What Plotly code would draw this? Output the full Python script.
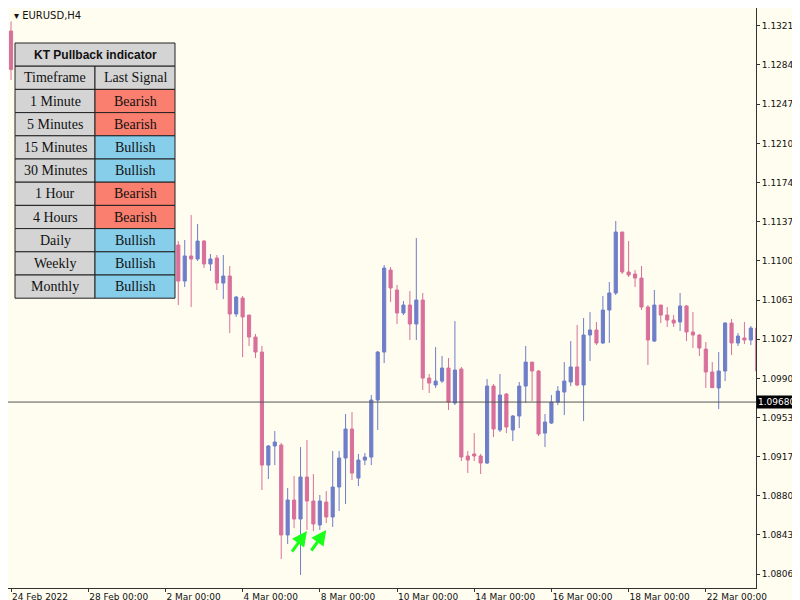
import plotly.graph_objects as go

# EURUSD H4 bars; index 0 = 24 Feb 2022 00:00, 6 bars per day
opens = [1.13160, 1.12800, 1.12650, 1.12400, 1.12500, 1.12200, 1.12000, 1.12100,
         1.11900, 1.11700, 1.11800, 1.11600, 1.11500, 1.11650, 1.11400, 1.11300,
         1.11450, 1.11500, 1.11300, 1.11200, 1.11350, 1.11250, 1.11100, 1.11200,
         1.11300, 1.11100,
         1.11153, 1.10815, 1.11050, 1.11022, 1.11190, 1.10975, 1.11031, 1.10796,
         1.10862, 1.10506, 1.10656, 1.10496, 1.10290, 1.10149, 1.09089, 1.09268,
         1.09277, 1.08433, 1.08761, 1.08583, 1.08977, 1.08752, 1.08527, 1.08742,
         1.08602, 1.08883, 1.09155, 1.09427, 1.08967, 1.09136, 1.09164, 1.09699,
         1.10149, 1.10918, 1.10731, 1.10515, 1.10590, 1.10412, 1.10637, 1.09905,
         1.09840, 1.09877, 1.09999, 1.09671, 1.09990, 1.09174, 1.09193, 1.09174,
         1.09108, 1.09830, 1.09418, 1.09755, 1.09418, 1.09549, 1.09830, 1.10055,
         1.09971, 1.09389, 1.09483, 1.09680, 1.09774, 1.09868, 1.10009, 1.09840,
         1.10309, 1.10356, 1.10234, 1.10543, 1.10703, 1.11275, 1.10900, 1.10881,
         1.10843, 1.10571, 1.10252, 1.10590, 1.10496, 1.10449, 1.10431, 1.10581,
         1.10337, 1.10309, 1.10177, 1.09962, 1.09812, 1.09971, 1.10421, 1.10234,
         1.10281, 1.10262, 1.10374]
highs = [1.13250, 1.12900, 1.12750, 1.12600, 1.12600, 1.12300, 1.12200, 1.12200,
         1.12000, 1.11900, 1.11850, 1.11700, 1.11700, 1.11700, 1.11500, 1.11500,
         1.11600, 1.11600, 1.11400, 1.11400, 1.11400, 1.11300, 1.11300, 1.11350,
         1.11350, 1.11250,
         1.11190, 1.11200, 1.11434, 1.11350, 1.11200, 1.11069, 1.11059, 1.11059,
         1.10956, 1.10675, 1.10675, 1.10496, 1.10318, 1.10206, 1.09277, 1.09408,
         1.09296, 1.08874, 1.08986, 1.09258, 1.09324, 1.09005, 1.08808, 1.08845,
         1.09221, 1.09221, 1.09568, 1.09586, 1.09193, 1.09202, 1.09746, 1.10159,
         1.10965, 1.10947, 1.10778, 1.10628, 1.10721, 1.11219, 1.10703, 1.09943,
         1.10196, 1.10112, 1.10093, 1.10440, 1.10009, 1.09221, 1.09389, 1.09193,
         1.09896, 1.09849, 1.09943, 1.09765, 1.09558, 1.09868, 1.10206, 1.10055,
         1.09980, 1.09568, 1.09746, 1.09830, 1.10055, 1.10252, 1.10403, 1.10468,
         1.10524, 1.10431, 1.10675, 1.10806, 1.11378, 1.11275, 1.11190, 1.10918,
         1.10956, 1.10590, 1.10731, 1.10590, 1.10571, 1.10496, 1.10703, 1.10590,
         1.10524, 1.10318, 1.10243, 1.10055, 1.10149, 1.10431, 1.10459, 1.10327,
         1.10431, 1.10393, 1.10393]
lows = [1.12700, 1.12550, 1.12350, 1.12300, 1.12150, 1.11950, 1.11950, 1.11850,
        1.11650, 1.11650, 1.11550, 1.11450, 1.11450, 1.11350, 1.11250, 1.11250,
        1.11350, 1.11250, 1.11150, 1.11150, 1.11200, 1.11050, 1.11050, 1.11150,
        1.11050, 1.10950,
        1.10590, 1.10759, 1.10571, 1.11003, 1.10937, 1.10909, 1.10731, 1.10646,
        1.10327, 1.10478, 1.10102, 1.10206, 1.10093, 1.08855, 1.08958, 1.09089,
        1.08208, 1.08348, 1.08498, 1.08058, 1.08480, 1.08470, 1.08480, 1.08545,
        1.08508, 1.08658, 1.08724, 1.08949, 1.08892, 1.09089, 1.09089, 1.09418,
        1.10046, 1.10618, 1.10412, 1.10496, 1.10262, 1.10262, 1.09793, 1.09765,
        1.09812, 1.09858, 1.09605, 1.09652, 1.09127, 1.09014, 1.09127, 1.09005,
        1.09099, 1.09352, 1.09399, 1.09389, 1.09314, 1.09436, 1.09671, 1.09690,
        1.09361, 1.09258, 1.09474, 1.09652, 1.09558, 1.09830, 1.09830, 1.09502,
        1.10065, 1.10215, 1.10224, 1.10234, 1.10684, 1.10881, 1.10853, 1.10759,
        1.10543, 1.10027, 1.10243, 1.10421, 1.10384, 1.10384, 1.10346, 1.10252,
        1.10187, 1.10112, 1.09812, 1.09812, 1.09615, 1.09877, 1.10121, 1.10206,
        1.10224, 1.10215, 1.09877]
closes = [1.12800, 1.12650, 1.12400, 1.12500, 1.12200, 1.12000, 1.12100, 1.11900,
          1.11700, 1.11800, 1.11600, 1.11500, 1.11650, 1.11400, 1.11300, 1.11450,
          1.11500, 1.11300, 1.11200, 1.11350, 1.11250, 1.11100, 1.11200, 1.11300,
          1.11100, 1.11153,
          1.10815, 1.11050, 1.11022, 1.11190, 1.10975, 1.11022, 1.10796, 1.10862,
          1.10506, 1.10665, 1.10478, 1.10290, 1.10149, 1.09089, 1.09268, 1.09305,
          1.08433, 1.08761, 1.08583, 1.08977, 1.08752, 1.08536, 1.08752, 1.08602,
          1.08883, 1.09155, 1.09427, 1.09014, 1.09136, 1.09164, 1.09699, 1.10149,
          1.10937, 1.10750, 1.10515, 1.10590, 1.10412, 1.10637, 1.09905, 1.09858,
          1.09877, 1.09999, 1.09680, 1.09980, 1.09164, 1.09136, 1.09174, 1.09108,
          1.09830, 1.09427, 1.09746, 1.09446, 1.09549, 1.09830, 1.10055, 1.09971,
          1.09380, 1.09493, 1.09680, 1.09783, 1.09877, 1.10009, 1.09840, 1.10309,
          1.10356, 1.10234, 1.10543, 1.10703, 1.11275, 1.10900, 1.10872, 1.10843,
          1.10571, 1.10262, 1.10590, 1.10496, 1.10449, 1.10421, 1.10581, 1.10337,
          1.10309, 1.10187, 1.09962, 1.09815, 1.09971, 1.10421, 1.10234, 1.10299,
          1.10262, 1.10374, 1.09971]

date_ticks = [0, 12, 24, 36, 48, 60, 72, 84, 96, 108]
date_labels = ["24 Feb 2022", "28 Feb 00:00", "2 Mar 00:00", "4 Mar 00:00",
               "8 Mar 00:00", "10 Mar 00:00", "14 Mar 00:00", "16 Mar 00:00",
               "18 Mar 00:00", "22 Mar 00:00"]
price_ticks = [1.13210, 1.12845, 1.12475, 1.12105, 1.11740, 1.11370, 1.11005,
               1.10635, 1.10270, 1.09900, 1.09535, 1.09170, 1.08800, 1.08435,
               1.08065]
current_price = 1.09680

timeframes = ["1 Minute", "5 Minutes", "15 Minutes", "30 Minutes", "1 Hour",
              "4 Hours", "Daily", "Weekly", "Monthly"]
signals = ["Bearish", "Bearish", "Bullish", "Bullish", "Bearish", "Bearish",
           "Bullish", "Bullish", "Bullish"]
arrow_bars = [46, 49]
arrow_prices = [1.08470, 1.08480]

BG = "#fffdf0"
UP = "#6e7ec9"
DOWN = "#d8709b"
TICKFONT = dict(size=9, color="#111111", family="DejaVu Sans")

fig = go.Figure(go.Candlestick(
    x=list(range(len(opens))), open=opens, high=highs, low=lows, close=closes,
    increasing=dict(line=dict(color=UP, width=1), fillcolor=UP),
    decreasing=dict(line=dict(color=DOWN, width=1), fillcolor=DOWN),
    whiskerwidth=0, showlegend=False, hoverinfo="skip",
))

W, H = 748.0, 580.0  # plot area in pixels


def px(x):
    return x / W


def py(y):
    return 1 - y / H


shapes = [dict(type="line", xref="paper", yref="y", x0=0, x1=1,
               y0=current_price, y1=current_price,
               line=dict(color="#555555", width=1))]
annotations = []

# indicator table
left, mid, right = 7, 87, 167
top, row_h = 35, 23.2


def cell(x0, x1, y0, y1, fill, text, font):
    shapes.append(dict(type="rect", xref="paper", yref="paper",
                       x0=px(x0), x1=px(x1), y0=py(y1), y1=py(y0),
                       fillcolor=fill, line=dict(color="#222222", width=1)))
    annotations.append(dict(xref="paper", yref="paper", x=px((x0 + x1) / 2),
                            y=py((y0 + y1) / 2), text=text, showarrow=False,
                            font=font, xanchor="center", yanchor="middle"))


serif = dict(family="Liberation Serif, DejaVu Serif", size=14, color="#111111")
cell(left, right, top, top + row_h, "#d4d4d4", "<b>KT Pullback indicator</b>",
     dict(family="Liberation Sans, Arial", size=12, color="#111111"))
y0 = top + row_h
cell(left, mid, y0, y0 + row_h, "#d4d4d4", "Timeframe", serif)
cell(mid, right, y0, y0 + row_h, "#d4d4d4", "Last Signal", serif)
for i, (tf, sig) in enumerate(zip(timeframes, signals)):
    ya = y0 + row_h * (i + 1)
    cell(left, mid, ya, ya + row_h, "#d4d4d4", tf, serif)
    cell(mid, right, ya, ya + row_h,
         "#fa7f6e" if sig == "Bearish" else "#87ceeb", sig, serif)

# signal arrows
for b, p in zip(arrow_bars, arrow_prices):
    annotations.append(dict(x=b, y=p, xref="x", yref="y", ax=-16, ay=22,
                            showarrow=True, arrowhead=2, arrowsize=1,
                            arrowwidth=3, arrowcolor="#19ff19", text=""))

# current price label
annotations.append(dict(xref="paper", yref="y", x=1.0, y=current_price,
                        text="1.09680", showarrow=False, xanchor="left",
                        bgcolor="#000000",
                        font=dict(color="white", size=9, family="DejaVu Sans"),
                        borderpad=1))
annotations.append(dict(xref="paper", yref="paper", x=0.005, y=1.0,
                        yanchor="top", xanchor="left", showarrow=False,
                        text="▾ EURUSD,H4",
                        font=dict(size=10, color="#111111",
                                  family="DejaVu Sans")))

fig.update_layout(
    width=800, height=600, paper_bgcolor=BG, plot_bgcolor=BG,
    margin=dict(l=0, r=52, t=0, b=20, autoexpand=False),
    shapes=shapes, annotations=annotations,
    xaxis=dict(range=[-0.47, 115.8], rangeslider=dict(visible=False),
               tickvals=date_ticks, ticktext=date_labels, showgrid=False,
               zeroline=False, ticks="outside", ticklen=3, tickcolor="#333",
               ticklabelposition="outside right", automargin=False,
               tickfont=TICKFONT, showline=True, linecolor="#333333"),
    yaxis=dict(range=[1.07936, 1.13376], side="right", tickvals=price_ticks,
               ticktext=[f"{v:.5f}" for v in price_ticks], showgrid=False,
               zeroline=False, ticks="outside", ticklen=3, tickcolor="#333",
               automargin=False, tickfont=TICKFONT,
               showline=True, linecolor="#333333"),
)

fig.write_html("out.html")
